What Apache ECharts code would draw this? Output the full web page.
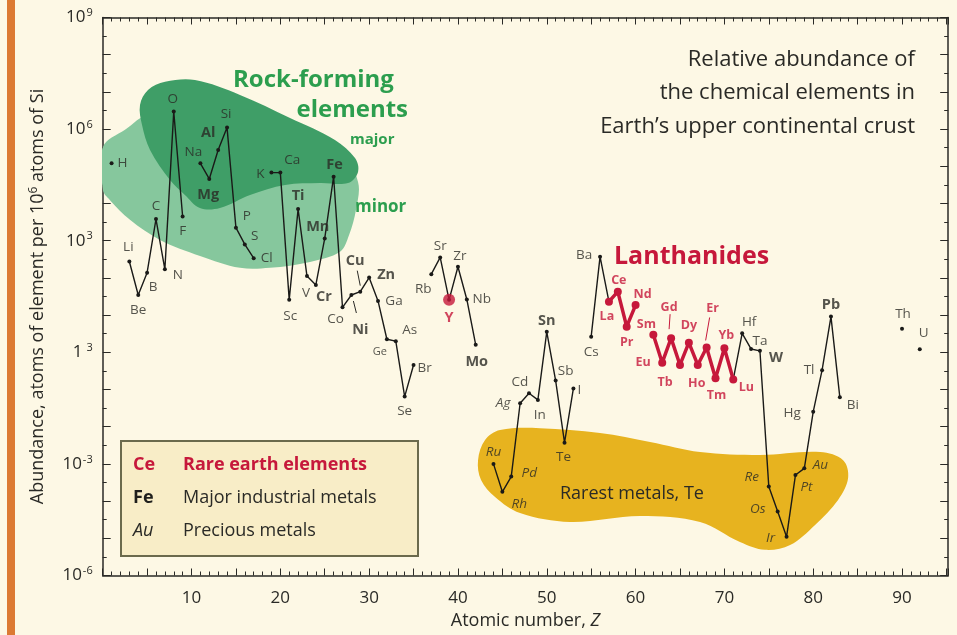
<!DOCTYPE html>
<html><head><meta charset="utf-8">
<script src="https://cdn.jsdelivr.net/npm/echarts@6/dist/echarts.min.js"></script>
<style>html,body{margin:0;padding:0;background:#fdf8e5;}#c{width:957px;height:635px;}</style>
</head><body><div id="c"></div>
<script>
// ---------- data ----------
const symbols = ['H','Li','Be','B','C','N','O','F','Na','Mg','Al','Si','P','S','Cl','K','Ca','Sc','Ti','V','Cr','Mn','Fe','Co','Ni','Cu','Zn','Ga','Ge','As','Se','Br','Rb','Sr','Y','Zr','Nb','Mo','Ru','Rh','Pd','Ag','Cd','In','Sn','Sb','Te','I','Cs','Ba','La','Ce','Pr','Nd','Sm','Eu','Gd','Tb','Dy','Ho','Er','Tm','Yb','Lu','Hf','Ta','W','Re','Os','Ir','Pt','Au','Hg','Tl','Pb','Bi','Th','U'];
const atomicNumber = [1,3,4,5,6,7,8,9,11,12,13,14,15,16,17,19,20,21,22,23,24,25,26,27,28,29,30,31,32,33,34,35,37,38,39,40,41,42,44,45,46,47,48,49,50,51,52,53,55,56,57,58,59,60,62,63,64,65,66,67,68,69,70,71,72,73,74,75,76,77,78,79,80,81,82,83,90,92];
// log10 of abundance (atoms per 10^6 atoms of Si)
const log10Abundance = [5.08,2.44,1.54,2.14,3.58,2.23,6.47,3.65,5.08,4.66,5.44,6.04,3.35,2.90,2.53,4.83,4.83,1.41,3.85,2.05,1.81,3.06,4.72,1.21,1.54,1.63,2.01,1.38,0.35,0.30,-1.19,-0.34,2.10,2.55,1.41,2.30,1.42,0.20,-3.00,-3.75,-3.34,-1.37,-1.10,-1.28,0.55,-0.76,-2.43,-0.97,0.42,2.57,1.36,1.63,0.69,1.27,0.47,-0.28,0.38,-0.34,0.26,-0.34,0.13,-0.70,0.11,-0.73,0.51,0.09,0.04,-3.61,-4.28,-4.96,-3.30,-3.12,-1.60,-0.48,0.96,-1.21,0.63,0.08];
const lanthanides = ['La','Ce','Pr','Nd','Sm','Eu','Gd','Tb','Dy','Ho','Er','Tm','Yb','Lu'];
const majorIndustrial = ['Mg','Al','Ti','Mn','Fe','Cr','Cu','Ni','Zn','Mo','Sn','W','Pb'];
const precious = ['Ru','Rh','Pd','Ag','Re','Os','Ir','Pt','Au'];
const xTickLabels = [10,20,30,40,50,60,70,80,90];
const yTickExponents = [-6,-3,0,3,6,9];
const yTickTexts = [['10','-6'],['10','-3'],['1',' 3'],['10','3'],['10','6'],['10','9']];
// annotation regions in data space [Z, log10 abundance]
const minorRockRegion = [[0.03,5.52],[2.51,5.98],[5.33,6.38],[16.59,5.98],[26.72,5.44],[28.75,4.58],[28.52,3.83],[27.74,3.15],[26.72,2.70],[23.34,2.43],[18.84,2.27],[15.46,2.27],[10.96,2.59],[6.45,3.02],[3.07,3.56],[0.82,4.09],[0.03,4.36]];
const majorRockRegion = [[4.20,6.65],[5.10,7.05],[7.02,7.27],[10.39,7.32],[15.46,6.92],[21.09,6.30],[26.15,5.71],[28.41,5.22],[28.75,4.85],[27.62,4.55],[24.47,4.55],[20.53,4.50],[16.59,4.23],[13.2,3.88],[10.95,3.88],[9.26,4.23],[7.58,4.63],[5.33,5.44],[4.43,6.11]];
const rarestRegion = [[42.26,-2.90],[43.05,-2.36],[44.74,-2.09],[49.24,-2.04],[55.99,-2.17],[61.63,-2.41],[67.26,-2.68],[74.02,-2.76],[80.78,-2.68],[83.37,-2.90],[83.93,-3.38],[82.80,-3.97],[80.21,-4.64],[77.40,-5.18],[74.58,-5.31],[71.75,-5.10],[67.26,-4.56],[60.50,-4.40],[52.62,-4.56],[46.99,-4.32],[44.18,-3.89],[42.60,-3.43]];

// ---------- label placement (pixels relative to point) ----------
const labelOffset = {H:[11,0],Li:[-1,-14],Be:[0,15],B:[6,14],C:[0,-13],N:[13,6],O:[-1,-12],F:[0,15],Na:[-7,-11],Mg:[-1,16],Al:[-10,-17],Si:[-1,-13],P:[11,-12],S:[10,-8],Cl:[13,0],K:[-11,2],Ca:[12,-12],Sc:[1,16],Ti:[0,-13],V:[-1,17],Cr:[8,12],Mn:[-7,-12],Fe:[1,-12],Co:[-7,12],Ni:[9,35],Cu:[-5,-31],Zn:[17,-3],Ga:[16,0],Ge:[-7,13],As:[14,-11],Se:[0,15],Br:[11,3],Rb:[-8,15],Sr:[0,-11],Y:[0,18],Zr:[2,-11],Nb:[15,0],Mo:[1,17],Ru:[0,-12],Rh:[17,12],Pd:[18,-3],Ag:[-17,0],Cd:[-9,-11],In:[2,15],Sn:[0,-11],Sb:[10,-9],Te:[-1,14],I:[6,2],Cs:[0,15],Ba:[-16,-2],La:[-2,15],Ce:[1,-11],Pr:[0,16],Nd:[7,-11],Sm:[-7,-10],Eu:[-19,0],Gd:[-2,-31],Tb:[-15,17],Dy:[0,-17],Ho:[-1,18],Er:[6,-39],Tm:[1,17],Yb:[2,-13],Lu:[13,8],Hf:[7,-11],Ta:[9,-8],W:[16,7],Re:[-17,-9],Os:[-20,-2],Ir:[-16,1],Pt:[11,12],Au:[16,-3],Hg:[-21,1],Tl:[-13,0],Pb:[0,-12],Bi:[13,8],Th:[1,-15],U:[4,-16]};
const leaderElems = ['Ni','Cu','Gd','Er'];
const leaderSeg = {Ni:[[2,6],[5,18]],Cu:[[-3,-21],[0,-6]],Gd:[[-1,-24],[-2,-9]],Er:[[3,-30],[-1,-7]]};

const FONT = '"Open Sans", "Noto Sans", sans-serif';
const INK = '#2a2a26';
const RED = '#c6183b';

const idx = s => symbols.indexOf(s);
const pt = s => [atomicNumber[idx(s)], log10Abundance[idx(s)]];

// black line with gaps
const blackData = [];
for (let i = 0; i < symbols.length; i++) {
  if (i > 0 && atomicNumber[i] - atomicNumber[i-1] > 1) blackData.push([atomicNumber[i]-1, '-']);
  blackData.push([atomicNumber[i], log10Abundance[i]]);
}
const redData = [];
lanthanides.forEach((s, k) => {
  const p = pt(s);
  if (k > 0 && p[0] - pt(lanthanides[k-1])[0] > 1) redData.push([p[0]-1, '-']);
  redData.push(p);
});

const labelData = symbols.map((s, i) => {
  const red = lanthanides.includes(s) || s === 'Y';
  const bold = majorIndustrial.includes(s) || red;
  const ital = precious.includes(s);
  return {
    name: s, value: [atomicNumber[i], log10Abundance[i]],
    label: {
      position: labelOffset[s] || [0,-12],
      color: red ? RED : INK,
      fontWeight: bold ? 'bold' : 'normal',
      fontStyle: ital ? 'italic' : 'normal',
      fontSize: s === 'Ge' ? 11 : (lanthanides.includes(s) ? 12.5 : (bold ? 14.5 : 13.5))
    }
  };
});

function region(name, pts, color) {
  return {
    type: 'custom', name, data: pts, silent: true, z: 1, clip: true,
    encode: {x: 0, y: 1},
    renderItem: (params, api) => {
      if (params.dataIndex !== 0) return null;
      return {type: 'polygon', shape: {points: pts.map(p => api.coord(p)), smooth: 0.35}, style: {fill: color}};
    }
  };
}

const xCommon = {
  type: 'value', min: 0, max: 95.2, interval: 5,
  axisLine: {show: true, onZero: false, lineStyle: {color: INK, width: 1.5}},
  axisTick: {show: true, inside: true, length: 7, lineStyle: {color: INK, width: 1}},
  minorTick: {show: true, splitNumber: 5, length: 4, lineStyle: {color: INK, width: 1}},
  splitLine: {show: false}, minorSplitLine: {show: false}
};
const yCommon = {
  type: 'value', min: -6, max: 9, interval: 1,
  axisLine: {show: true, onZero: false, lineStyle: {color: INK, width: 1.5}},
  axisTick: {show: true, inside: true, length: 8, lineStyle: {color: INK, width: 1}},
  minorTick: {show: true, splitNumber: 2, length: 4, lineStyle: {color: INK, width: 1}},
  splitLine: {show: false}, minorSplitLine: {show: false}
};

const chart = echarts.init(document.getElementById('c'), null, {renderer: 'canvas'});
chart.setOption({
  animation: false,
  backgroundColor: '#fdf8e5',
  textStyle: {fontFamily: FONT},
  grid: {left: 102.7, right: 8.8, top: 17.5, bottom: 59.5, containLabel: false},
  xAxis: [
    Object.assign({}, xCommon, {
      position: 'bottom',
      axisLabel: {margin: 14, fontSize: 17, color: INK, fontFamily: FONT,
        formatter: v => xTickLabels.includes(v) ? String(v) : ''},
      name: 'Atomic number, {i|Z}', nameLocation: 'middle', nameGap: 34,
      nameTextStyle: {fontSize: 18, color: INK, fontFamily: FONT,
        rich: {i: {fontSize: 18, fontStyle: 'italic', color: INK, fontFamily: FONT}}}
    }),
    Object.assign({}, xCommon, {position: 'top', axisLabel: {show: false}})
  ],
  yAxis: [
    Object.assign({}, yCommon, {
      position: 'left',
      axisLabel: {margin: 10, color: INK, fontFamily: FONT,
        formatter: v => {
          const k = yTickExponents.indexOf(v);
          if (k < 0) return '';
          return '{b|' + yTickTexts[k][0] + '}{s|' + yTickTexts[k][1] + '}';
        },
        rich: {
          b: {fontSize: 17, color: INK, fontFamily: FONT},
          s: {fontSize: 11, color: INK, fontFamily: FONT, verticalAlign: 'bottom', padding: [0, 0, 9, 1]}
        }
      },
      name: 'Abundance, atoms of element per 10{s|6} atoms of Si',
      nameLocation: 'middle', nameGap: 54,
      nameTextStyle: {fontSize: 18, color: INK, fontFamily: FONT,
        rich: {s: {fontSize: 12, color: INK, fontFamily: FONT, verticalAlign: 'bottom', padding: [0, 0, 9, 0]}}}
    }),
    Object.assign({}, yCommon, {position: 'right', axisLabel: {show: false}})
  ],
  series: [
    region('minor', minorRockRegion, '#86c79d'),
    region('major', majorRockRegion, '#3f9e67'),
    region('rarest', rarestRegion, '#e7b31f'),
    {
      type: 'line', name: 'elements', data: blackData, z: 3, connectNulls: false,
      symbol: 'circle', symbolSize: 4, showSymbol: true,
      itemStyle: {color: '#1a1a18'}, lineStyle: {color: '#1a1a18', width: 1.4}, silent: true
    },
    {
      type: 'line', name: 'lanthanides', data: redData, z: 4, connectNulls: false,
      symbol: 'circle', symbolSize: 8, showSymbol: true,
      itemStyle: {color: RED}, lineStyle: {color: RED, width: 3.5}, silent: true
    },
    {
      type: 'scatter', name: 'Y', data: [pt('Y')], z: 4, symbolSize: 12,
      itemStyle: {color: RED}, silent: true
    },
    {
      type: 'custom', name: 'leaders', z: 5, silent: true,
      data: leaderElems.map(pt), encode: {x: 0, y: 1},
      renderItem: (params, api) => {
        const p = api.coord([api.value(0), api.value(1)]);
        const s = leaderElems[params.dataIndex];
        const g = leaderSeg[s];
        return {type: 'line', shape: {x1: p[0]+g[0][0], y1: p[1]+g[0][1], x2: p[0]+g[1][0], y2: p[1]+g[1][1]},
          style: {stroke: lanthanides.includes(s) ? RED : INK, lineWidth: 1}};
      }
    },
    {
      type: 'scatter', name: 'labels', data: labelData, z: 6, symbolSize: 0.01, silent: true,
      itemStyle: {color: 'rgba(0,0,0,0)'},
      label: {show: true, formatter: p => p.name, fontFamily: FONT, align: 'center', verticalAlign: 'middle', distance: 0},
      labelLayout: {hideOverlap: false}
    }
  ],
  graphic: [
    {type: 'rect', z: 100, shape: {x: 7, y: 0, width: 8, height: 635}, style: {fill: '#dc7a33'}},
    {type: 'text', z: 100, style: {text: 'Relative abundance of', x: 915, y: 60, align: 'right', verticalAlign: 'middle', font: '22px ' + FONT, fill: INK}},
    {type: 'text', z: 100, style: {text: 'the chemical elements in', x: 915, y: 93, align: 'right', verticalAlign: 'middle', font: '22px ' + FONT, fill: INK}},
    {type: 'text', z: 100, style: {text: 'Earth\u2019s upper continental crust', x: 915, y: 127, align: 'right', verticalAlign: 'middle', font: '22px ' + FONT, fill: INK}},
    {type: 'text', z: 100, style: {text: 'Rock-forming', x: 233, y: 80, align: 'left', verticalAlign: 'middle', font: 'bold 24px ' + FONT, fill: '#2c9e4e'}},
    {type: 'text', z: 100, style: {text: 'elements', x: 408, y: 110, align: 'right', verticalAlign: 'middle', font: 'bold 24px ' + FONT, fill: '#2c9e4e'}},
    {type: 'text', z: 100, style: {text: 'major', x: 350, y: 140, align: 'left', verticalAlign: 'middle', font: 'bold 15px ' + FONT, fill: '#2c9e4e'}},
    {type: 'text', z: 100, style: {text: 'minor', x: 355, y: 207, align: 'left', verticalAlign: 'middle', font: 'bold 17px ' + FONT, fill: '#2c9e4e'}},
    {type: 'text', z: 100, style: {text: 'Lanthanides', x: 614, y: 257, align: 'left', verticalAlign: 'middle', font: 'bold 25px ' + FONT, fill: RED}},
    {type: 'text', z: 100, style: {text: 'Rarest metals, Te', x: 560, y: 494, align: 'left', verticalAlign: 'middle', font: '18px ' + FONT, fill: INK}},
    {type: 'rect', z: 100, shape: {x: 121, y: 441, width: 297, height: 115}, style: {fill: '#f8edc7', stroke: '#6b6a4c', lineWidth: 2}},
    {type: 'text', z: 101, style: {text: 'Ce', x: 133, y: 465, verticalAlign: 'middle', font: 'bold 18px ' + FONT, fill: RED}},
    {type: 'text', z: 101, style: {text: 'Rare earth elements', x: 183, y: 465, verticalAlign: 'middle', font: 'bold 18px ' + FONT, fill: RED}},
    {type: 'text', z: 101, style: {text: 'Fe', x: 133, y: 498, verticalAlign: 'middle', font: 'bold 18px ' + FONT, fill: '#1f1f1c'}},
    {type: 'text', z: 101, style: {text: 'Major industrial metals', x: 183, y: 498, verticalAlign: 'middle', font: '18px ' + FONT, fill: INK}},
    {type: 'text', z: 101, style: {text: 'Au', x: 133, y: 531, verticalAlign: 'middle', font: 'italic 18px ' + FONT, fill: INK}},
    {type: 'text', z: 101, style: {text: 'Precious metals', x: 183, y: 531, verticalAlign: 'middle', font: '18px ' + FONT, fill: INK}}
  ]
});
</script></body></html>
